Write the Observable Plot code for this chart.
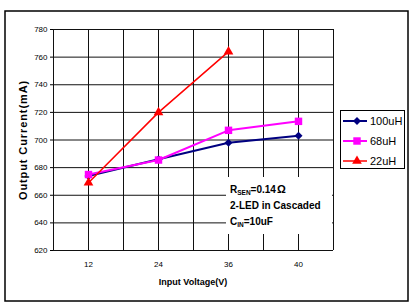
<!DOCTYPE html>
<html><head><meta charset="utf-8">
<script src="https://cdn.jsdelivr.net/npm/d3@7"></script>
<script src="https://cdn.jsdelivr.net/npm/@observablehq/plot@0.6"></script>
<style>
body{margin:0;background:#fff;}
#chart{position:relative;width:413px;height:302px;overflow:hidden;}
svg{overflow:visible;}
</style></head><body><div id="chart"></div>
<script>
// ---- data ----
const voltages = ["12", "24", "36", "40"];
const current100uH = [674, 686, 698, 703];
const current68uH = [675, 685.5, 707, 713.5];
const current22uH = [669, 720, 764];
const seriesNames = ["100uH", "68uH", "22uH"];
const seriesColors = ["#000080", "#FF00FF", "#FF0000"];
const seriesSymbols = ["diamond2", "square", "triangle"];
const yTicks = [620, 640, 660, 680, 700, 720, 740, 760, 780];

const seriesValues = [current100uH, current68uH, current22uH];
const rows = [];
seriesNames.forEach((s, k) => seriesValues[k].forEach((v, i) => rows.push({series: s, xi: i + 1, v})));

const lineWidths = [2, 2, 1.5];
const dotR = [3.6, 4.2, 3.6];

const whiteBox = (index, scales, values, dims) => {
  const x0 = scales.x(3) - 2;
  return d3.create("svg:rect").attr("x", x0).attr("y", 177)
    .attr("width", dims.width - dims.marginRight - x0 - 1).attr("height", 57)
    .attr("fill", "#fff").node();
};

const marks = [
  Plot.gridX(d3.range(0.5, voltages.length + 0.51, 0.5), {stroke: "#111", strokeOpacity: 1, strokeWidth: 1}),
  Plot.gridY(yTicks, {stroke: "#111", strokeOpacity: 1, strokeWidth: 1}),
  whiteBox,
  Plot.axisY(yTicks, {tickSize: 3, tickPadding: 3, label: null, fontSize: 8}),
  Plot.axisX([1, 2, 3, 4], {tickSize: 0, tickPadding: 11, tickFormat: i => voltages[i - 1], label: null, fontSize: 8}),
];
seriesNames.forEach((s, k) => {
  const d = rows.filter(r => r.series === s);
  marks.push(Plot.line(d, {x: "xi", y: "v", stroke: seriesColors[k], strokeWidth: lineWidths[k]}));
});
seriesNames.forEach((s, k) => {
  const d = rows.filter(r => r.series === s);
  marks.push(Plot.dot(d, {x: "xi", y: "v", symbol: () => seriesSymbols[k], fill: seriesColors[k], r: dotR[k], stroke: "none"}));
});

const svg = Plot.plot({
  width: 413, height: 302,
  marginLeft: 53, marginRight: 80, marginTop: 29, marginBottom: 52,
  style: {fontFamily: "'Liberation Sans', Arial, sans-serif", fontSize: "8px", color: "#000", background: "transparent"},
  x: {type: "linear", domain: [0.5, voltages.length + 0.5], axis: null},
  y: {domain: [620, 780], axis: null},
  symbol: {type: "identity"},
  marks
});

const g = d3.select(svg);
// outer frame
g.append("rect").attr("x", 5).attr("y", 11).attr("width", 403).attr("height", 290)
  .attr("fill", "none").attr("stroke", "#000").attr("stroke-width", 1.5);

// axis titles
g.append("text").attr("transform", "translate(27,140) rotate(-90)")
  .attr("text-anchor", "middle").attr("font-weight", "bold").attr("font-size", 11)
  .attr("letter-spacing", "0.9px").attr("fill", "#000").text("Output Current(mA)");
g.append("text").attr("x", 193).attr("y", 285).attr("text-anchor", "middle")
  .attr("font-weight", "bold").attr("font-size", 9).attr("fill", "#000").text("Input Voltage(V)");

// annotation
const ann = g.append("g").attr("font-weight", "bold").attr("font-size", 10).attr("fill", "#000").attr("text-anchor", "start");
const t1 = ann.append("text").attr("x", 230).attr("y", 193);
t1.append("tspan").text("R");
t1.append("tspan").attr("font-size", 6.5).attr("dy", 2).text("SEN");
t1.append("tspan").attr("dy", -2).text("=0.14");
t1.append("tspan").attr("font-size", 11).attr("dx", 1).text("Ω");
ann.append("text").attr("x", 230).attr("y", 209).text("2-LED in Cascaded");
const t3 = ann.append("text").attr("x", 230).attr("y", 225);
t3.append("tspan").text("C");
t3.append("tspan").attr("font-size", 6.5).attr("dy", 2).text("IN");
t3.append("tspan").attr("dy", -2).text("=10uF");

// legend
const lg = g.append("g").attr("text-anchor", "start");
lg.append("rect").attr("x", 340.5).attr("y", 110.5).attr("width", 64).attr("height", 58)
  .attr("fill", "#fff").attr("stroke", "#000").attr("stroke-width", 1);
const symMap = {diamond2: d3.symbolDiamond2, square: d3.symbolSquare, triangle: d3.symbolTriangle};
seriesNames.forEach((s, k) => {
  const y = 121 + k * 20;
  lg.append("line").attr("x1", 343).attr("x2", 367).attr("y1", y).attr("y2", y)
    .attr("stroke", seriesColors[k]).attr("stroke-width", lineWidths[k]);
  lg.append("path").attr("transform", `translate(357,${y})`)
    .attr("d", d3.symbol(symMap[seriesSymbols[k]], Math.PI * dotR[k] * dotR[k])())
    .attr("fill", seriesColors[k]);
  lg.append("text").attr("x", 370).attr("y", y + 4).attr("font-size", 11).attr("fill", "#000").text(s);
});

document.getElementById("chart").appendChild(svg);
</script></body></html>
